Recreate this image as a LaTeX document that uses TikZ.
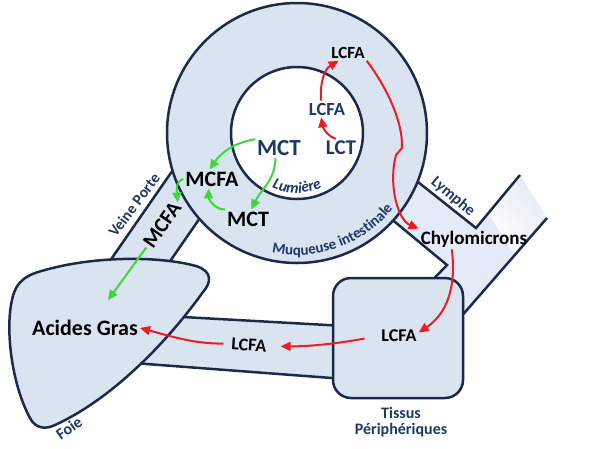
\documentclass[tikz,border=0pt]{standalone}
\usepackage{fontspec}
\setmainfont{Carlito}
\usetikzlibrary{arrows.meta,decorations.text,fadings}
\definecolor{organ}{RGB}{218,227,240}
\definecolor{lymphc}{RGB}{228,235,246}
\definecolor{edge}{RGB}{27,42,71}
\definecolor{navy}{RGB}{31,56,100}
\definecolor{fared}{RGB}{236,28,36}
\definecolor{fagreen}{RGB}{64,214,64}
\newcommand{\fsz}[1]{\fontsize{#1}{#1}\selectfont}

\tikzset{
  wall/.style={draw=edge,line width=2.5pt},
  acid/.style={font=\bfseries\fsz{#1},inner sep=2pt},
  lumen/.style={font=\bfseries\fsz{#1},text=navy,inner sep=2pt},
  site/.style={font=\bfseries\fsz{#1},text=navy,inner sep=1pt},
  redflow/.style={draw=fared,line width=2pt,-{Triangle[length=10pt,width=9pt]}},
  greenflow/.style={draw=fagreen,line width=2pt,-{Triangle[length=10pt,width=9pt]}},
}

\begin{document}
\begin{tikzpicture}[x=1pt,y=1pt]
\useasboundingbox (0,0) rectangle (614,-448);

% vessels
\fill[organ] (96,-281) -- (193,-141) -- (229,-176) -- (155,-283) -- cycle;
\draw[wall] (96,-281) -- (193,-141) (155,-283) -- (229,-176);
\fill[lymphc] (360,-136) -- (476,-228) -- (520,-175) -- (547,-218) -- (453,-326)
  -- (423,-290) -- (447,-265) -- (343,-179) -- cycle;
\fill[white,path fading=east,fading transform={rotate=50}]
  (488,-213) -- (520,-175) -- (547,-218) -- (515,-255) -- cycle;
\draw[wall] (360,-136) -- (476,-228) -- (520,-175);
\draw[wall] (343,-179) -- (447,-265) -- (423,-290);
\draw[wall] (547,-218) -- (453,-326);
\fill[organ] (165,-316) -- (345,-326) -- (345,-379) -- (120,-362) -- cycle;
\draw[wall] (165,-316) -- (345,-326) (120,-362) -- (345,-379);

% intestine
\draw[wall,fill=organ] (297,-133) circle (130pt);
\draw[wall,fill=white] (297,-133) circle (66pt);
\path[decorate,decoration={text along path,text align=center,
  text={|\bfseries\fsz{15}\color{navy}|Muqueuse intestinale}}]
  (297,-133) ++(-106:122pt) arc[start angle=-106,end angle=-34,radius=122pt];
\path[decorate,decoration={text along path,text align=center,
  text={|\bfseries\itshape\fsz{15.5}\color{navy}|Lumière}}]
  (297,-133) ++(-118:60pt) arc[start angle=-118,end angle=-62,radius=60pt];

% liver
\draw[wall,fill=organ] (35,-273) .. controls (90,-255) and (160,-256) .. (196,-266)
  .. controls (212,-271) and (212,-282) .. (203,-292)
  .. controls (165,-345) and (110,-400) .. (55,-425)
  .. controls (45,-430) and (35,-428) .. (30,-418)
  .. controls (12,-385) and (5,-330) .. (12,-300)
  .. controls (15,-285) and (22,-278) .. (35,-273) -- cycle;

% peripheral tissue
\draw[wall,fill=organ,rounded corners=18pt] (333,-278) rectangle (463,-398);

% labels
\node[acid=17] (lcfaTop) at (348,-53) {LCFA};
\node[lumen=18.5] (lcfaIn) at (327,-109) {LCFA};
\node[lumen=23] (mctIn) at (279,-148) {MCT};
\node[lumen=21] (lct) at (341,-148) {LCT};
\node[acid=22] (mcfa) at (212,-179) {MCFA};
\node[acid=22] (mctLow) at (248,-219) {MCT};
\node[acid=21,rotate=55] (mcfaV) at (162,-225) {MCFA};
\node[acid=19] (chylo) at (474,-239) {Chylomicrons};
\node[acid=18] (lcfaBox) at (399,-336) {LCFA};
\node[acid=18,rotate=-4] (lcfaTube) at (249,-345) {LCFA};
\node[acid=22] (acides) at (85,-328) {Acides Gras};
\node[site=15.5,rotate=53] (veine) at (134,-205) {Veine Porte};
\node[site=16,rotate=-40] (lymphe) at (453,-197) {Lymphe};
\node[site=16,rotate=35] (foie) at (69,-428) {Foie};
\node[site=16,align=center] (tissus) at (401,-422) {Tissus\\Périphériques};

% long chain route
\draw[redflow] (lct.120) to[out=160,in=-80] (lcfaIn.235);
\draw[redflow] (lcfaIn.125) to[out=95,in=210] (lcfaTop.220);
\draw[redflow] (lcfaTop.south east) .. controls (385,-85) and (403,-120) .. (402,-148)
  -- (396,-155) .. controls (388,-185) and (398,-220) .. (chylo.north west);
\draw[redflow] (chylo.205) .. controls (457,-290) and (445,-315) .. (lcfaBox.10);
\draw[redflow,shorten <=15pt,shorten >=12pt] (lcfaBox.west) to[out=190,in=0] (lcfaTube.east);
\draw[redflow,shorten <=6pt] (lcfaTube.west) to[out=180,in=-15] (acides.east);

% medium chain route
\draw[greenflow] (mctIn.160) to[out=190,in=55] (mcfa.105);
\draw[greenflow] (mctIn.250) to[out=-90,in=65] (mctLow.70);
\draw[greenflow] (mctLow.north west) to[out=180,in=-90] (mcfa.250);
\draw[greenflow] (mcfa.west) to[out=200,in=95] (mcfaV.east);
\draw[greenflow,shorten >=22pt] (mcfaV.west) -- (acides.45);
\end{tikzpicture}
\end{document}
